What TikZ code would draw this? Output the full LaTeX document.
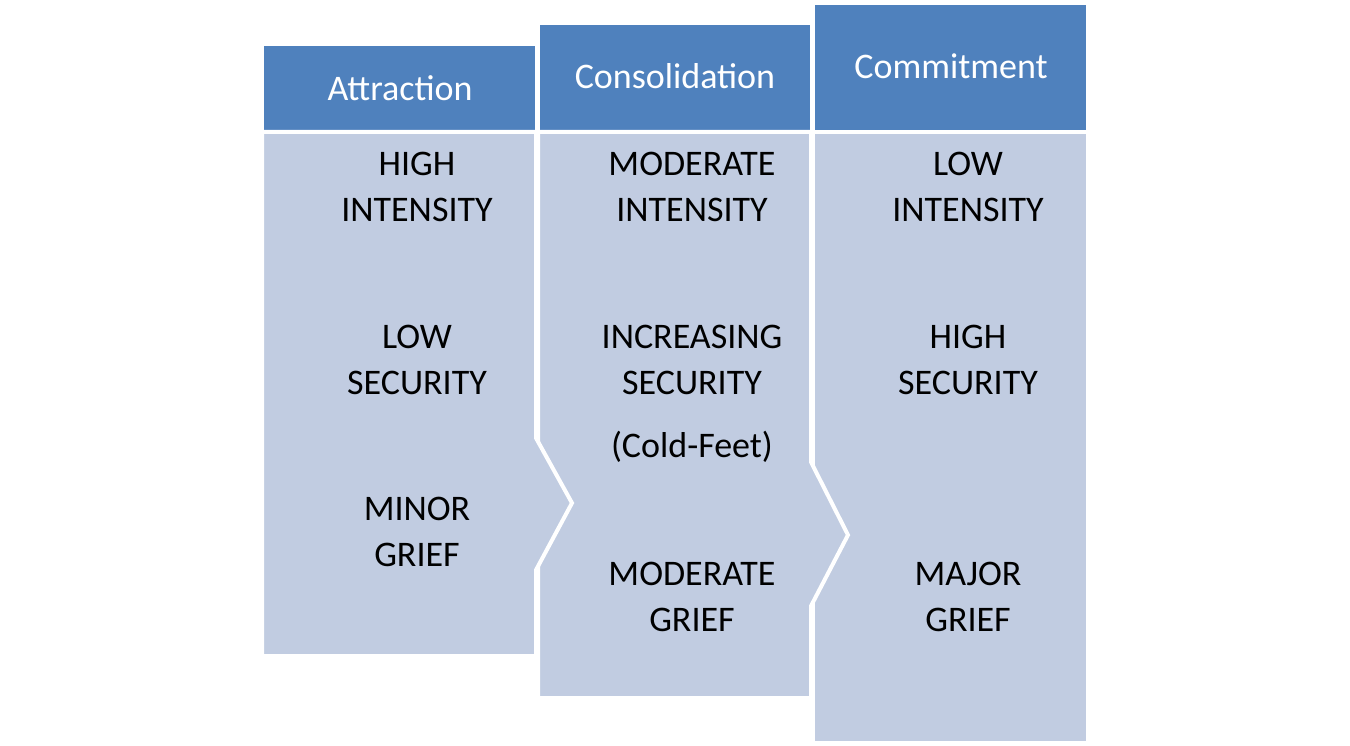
\documentclass[tikz,border=0pt]{standalone}
\usepackage{fontspec}
\setmainfont{Carlito}
\definecolor{kopf}{RGB}{79,129,189}
\definecolor{rumpf}{RGB}{193,204,225}
\tikzset{
    head/.style={fill=kopf, draw=none},
    body/.style={fill=rumpf, draw=white, line width=4pt, line join=miter},
    htext/.style={text=white, font=\fontsize{36}{40}\selectfont},
    btext/.style={text=black, align=center, font=\fontsize{36}{46}\selectfont},
}
\begin{document}
\begin{tikzpicture}[x=1pt, y=-1pt]
    \useasboundingbox (0,0) rectangle (1350,746);
    % headers
    \fill[head] (264,46) rectangle (535,130);
    \fill[head] (540,25) rectangle (810,130);
    \fill[head] (815,5) rectangle (1086,130);
    % bodies
    \path[body] (813,132) -- (1088,132) -- (1088,743) -- (813,743) -- cycle;
    \path[body] (538,132) -- (811,132) -- (811,462) -- (848,535) -- (811,606) -- (811,698) -- (538,698) -- cycle;
    \path[body] (262,132) -- (536,132) -- (536,438) -- (572,503) -- (536,570) -- (536,656) -- (262,656) -- cycle;
    % header labels
    \node[htext] (att) at (400,88) {Attraction};
    \node[htext] (con) at (675,76) {Consolidation};
    \node[htext] (com) at (951,66) {Commitment};
    % column texts
    \node[btext] (a1) at (417,187) {HIGH\\INTENSITY};
    \node[btext] (a2) at (417,360) {LOW\\SECURITY};
    \node[btext] (a3) at (417,532) {MINOR\\GRIEF};
    \node[btext] (b1) at (692,187) {MODERATE\\INTENSITY};
    \node[btext] (b2) at (692,360) {INCREASING\\SECURITY};
    \node[btext] (b3) at (692,447) {(Cold-Feet)};
    \node[btext] (b4) at (692,597) {MODERATE\\GRIEF};
    \node[btext] (c1) at (968,187) {LOW\\INTENSITY};
    \node[btext] (c2) at (968,360) {HIGH\\SECURITY};
    \node[btext] (c3) at (968,597) {MAJOR\\GRIEF};
\end{tikzpicture}
\end{document}
